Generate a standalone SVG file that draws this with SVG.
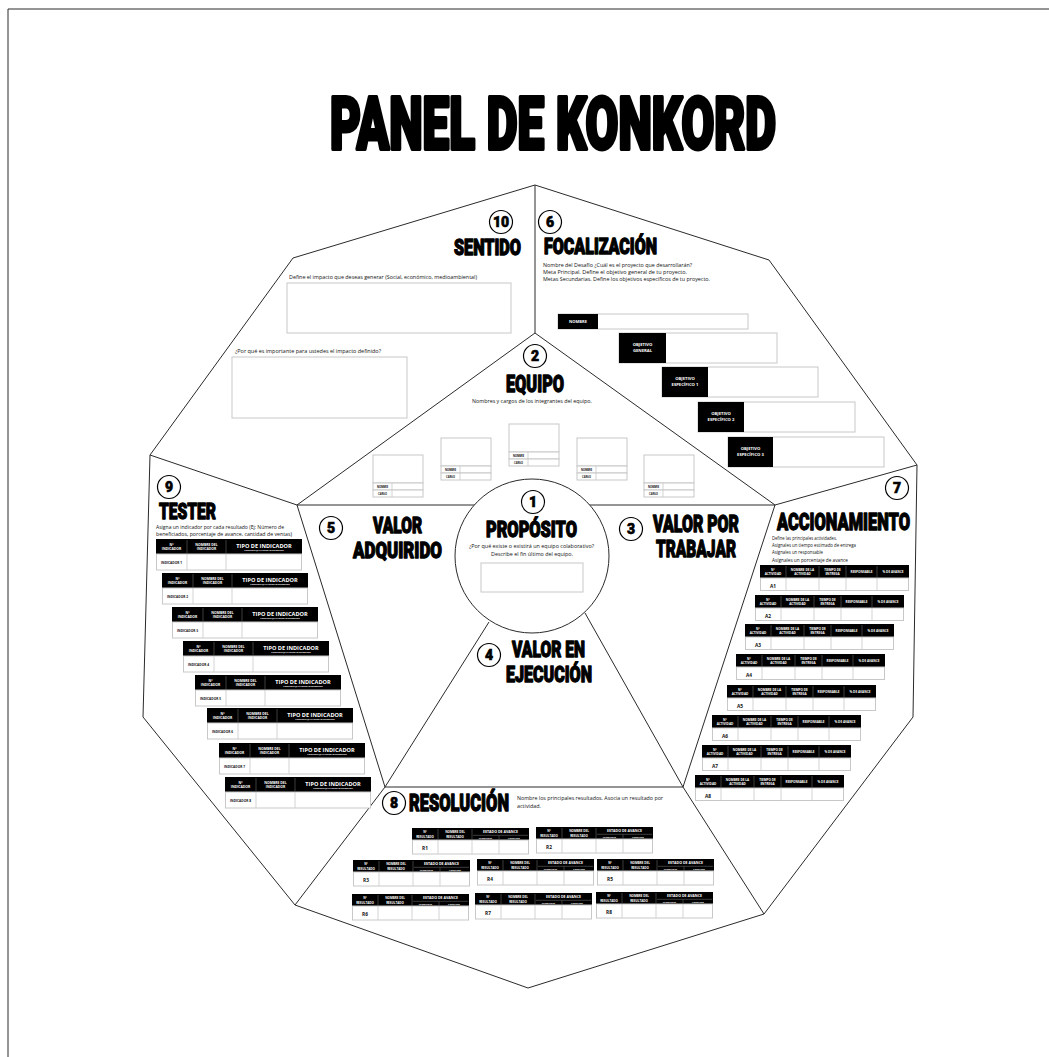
<svg xmlns="http://www.w3.org/2000/svg" width="1049" height="1057" viewBox="0 0 1049 1057">
<style>
.h{font-family:Roboto,Inter,"DejaVu Sans",sans-serif;font-weight:900;fill:#000;stroke:#000;stroke-width:1.3px;stroke-linejoin:round}
.n{font-family:Roboto,Inter,"DejaVu Sans",sans-serif;font-weight:900;font-size:14px;text-anchor:middle;fill:#000;stroke:#000;stroke-width:0.6px}
.nc{fill:#fff;stroke:#000;stroke-width:1.2}
.t{font-family:"Open Sans","Liberation Sans",sans-serif;font-size:6px;fill:#111}
.tc{text-anchor:middle}
.box{fill:#fff;stroke:#c8c8c8;stroke-width:1}
.ln{fill:none;stroke:#2a2a2a;stroke-width:1}
.blk{fill:#000}
.th{font-family:"Open Sans","Liberation Sans",sans-serif;font-weight:700;fill:#fff;text-anchor:middle}
.rl{font-family:"Open Sans","Liberation Sans",sans-serif;font-weight:700;fill:#111;text-anchor:middle}
.sep{stroke:#666;stroke-width:0.6}
.gsep{stroke:#c8c8c8;stroke-width:0.8}
</style>
<defs>
  <g id="tbl-tester">
    <rect class="blk" x="0" y="0" width="146" height="15"/>
    <rect class="box" x="0.5" y="15" width="145" height="16"/>
    <path class="gsep" d="M31,15V31M70,15V31"/>
    <path class="sep" d="M31,1V14M70,1V14"/>
    <text class="th" x="15.5" y="6.5" font-size="3.4">N°</text>
    <text class="th" x="15.5" y="11" font-size="3.4">INDICADOR</text>
    <text class="th" x="50.5" y="6.5" font-size="3.4">NOMBRE DEL</text>
    <text class="th" x="50.5" y="11" font-size="3.4">INDICADOR</text>
    <text class="th" x="108" y="8.5" font-size="5.6">TIPO DE INDICADOR</text>
    <text class="th" x="108" y="12.4" font-size="2.3">PORCENTAJE-CANTIDAD-NÚMEROS</text>
  </g>
  <g id="tbl-act">
    <rect class="blk" x="0" y="0" width="149" height="13"/>
    <rect class="box" x="0.5" y="13" width="148" height="12.5"/>
    <path class="gsep" d="M26,13V25.5M59,13V25.5M86,13V25.5M117,13V25.5"/>
    <path class="sep" d="M26,1V12M59,1V12M86,1V12M117,1V12"/>
    <text class="th" x="13" y="5.5" font-size="3.1">N°</text>
    <text class="th" x="13" y="9.8" font-size="3.1">ACTIVIDAD</text>
    <text class="th" x="42.5" y="5.5" font-size="3.1">NOMBRE DE LA</text>
    <text class="th" x="42.5" y="9.8" font-size="3.1">ACTIVIDAD</text>
    <text class="th" x="72.5" y="5.5" font-size="3.1">TIEMPO DE</text>
    <text class="th" x="72.5" y="9.8" font-size="3.1">ENTREGA</text>
    <text class="th" x="101.5" y="7.8" font-size="3.1">RESPONSABLE</text>
    <text class="th" x="133" y="7.8" font-size="3.1">% DE AVANCE</text>
  </g>
  <g id="tbl-res">
    <rect class="blk" x="0" y="0" width="117" height="12"/>
    <rect class="box" x="0.5" y="12" width="116" height="14"/>
    <path class="gsep" d="M26,12V26M60,12V26M87,12V26"/>
    <path class="sep" d="M26,1V11M60,1V11M87,7.5V11M61,7.3H116"/>
    <text class="th" x="13" y="5" font-size="3">N°</text>
    <text class="th" x="13" y="9.5" font-size="3">RESULTADO</text>
    <text class="th" x="43" y="5" font-size="3">NOMBRE DEL</text>
    <text class="th" x="43" y="9.5" font-size="3">RESULTADO</text>
    <text class="th" x="88.5" y="5.3" font-size="3.6">ESTADO DE AVANCE</text>
    <text class="th" x="73.5" y="10.6" font-size="2.4">PENDIENTE</text>
    <text class="th" x="102" y="10.6" font-size="2.4">LOGRADO</text>
  </g>
  <g id="card">
    <rect class="box" x="0" y="0" width="50" height="28"/>
    <rect class="box" x="0" y="28" width="50" height="7"/>
    <rect class="box" x="0" y="35" width="50" height="7"/>
    <path class="gsep" d="M19,28V42"/>
    <text class="rl" x="9.5" y="32.7" font-size="2.5">NOMBRE</text>
    <text class="rl" x="9.5" y="39.7" font-size="2.5">CARGO</text>
  </g>
</defs>

<rect x="0" y="0" width="1049" height="1057" fill="#fff"/>
<path class="ln" d="M8,9H1049M8,9V1057"/>

<g id="title">
  <text class="h" x="330" y="149" font-size="73" style="stroke-width:4px" textLength="446" lengthAdjust="spacingAndGlyphs">PANEL DE KONKORD</text>
</g>

<g id="connectors">
  <polygon class="ln" points="535,185 769,260 917,465 913,717 764,914 528,988 295,905 143,717 150,455 293,258"/>
  <path class="ln" d="M535,185V333M535,333L297,505M535,333L775,505M150,455L297,505M297,505H775M775,505L917,465M297,505L385,787M775,505L683,787M385,787H683M385,787L295,905M683,787L764,914M489,622L385,787M585,613L683,787"/>
</g>

<g id="sentido">
  <circle class="nc" cx="501" cy="222" r="11.5"/>
  <text class="n" x="501" y="227" font-size="13">10</text>
  <text class="h" x="454" y="254.5" font-size="21.5" textLength="67" lengthAdjust="spacingAndGlyphs">SENTIDO</text>
  <text class="t" x="289" y="279" textLength="188" lengthAdjust="spacingAndGlyphs">Define el impacto que deseas generar (Social, económico, medioambiental)</text>
  <rect class="box" x="287" y="283" width="224" height="50"/>
  <text class="t" x="235" y="353" textLength="146" lengthAdjust="spacingAndGlyphs">¿Por qué es importante para ustedes el impacto definido?</text>
  <rect class="box" x="232" y="357" width="175" height="61"/>
</g>

<g id="focalizacion">
  <circle class="nc" cx="550" cy="222" r="11.5"/>
  <text class="n" x="550" y="227">6</text>
  <text class="h" x="544" y="254" font-size="21.5" textLength="113" lengthAdjust="spacingAndGlyphs">FOCALIZACIÓN</text>
  <text class="t" x="543" y="267" textLength="149" lengthAdjust="spacingAndGlyphs">Nombre del Desafío ¿Cuál es el proyecto que desarrollarán?</text>
  <text class="t" x="543" y="274" textLength="144" lengthAdjust="spacingAndGlyphs">Meta Principal. Define el objetivo general de tu proyecto.</text>
  <text class="t" x="543" y="281" textLength="167" lengthAdjust="spacingAndGlyphs">Metas Secundarias. Define los objetivos específicos de tu proyecto.</text>
  <rect class="box" x="558" y="314" width="190" height="15"/>
  <rect class="blk" x="558" y="314" width="40" height="15"/>
  <text class="th" x="578" y="323" font-size="4">NOMBRE</text>
  <rect class="box" x="619" y="333" width="158" height="30"/>
  <rect class="blk" x="619" y="333" width="47" height="30"/>
  <text class="th" x="642.5" y="345.5" font-size="4.2">OBJETIVO</text>
  <text class="th" x="642.5" y="351.5" font-size="4.2">GENERAL</text>
  <rect class="box" x="662" y="367" width="156" height="30"/>
  <rect class="blk" x="662" y="367" width="46" height="30"/>
  <text class="th" x="685" y="379.5" font-size="4.2">OBJETIVO</text>
  <text class="th" x="685" y="385.5" font-size="4.2">ESPECÍFICO 1</text>
  <rect class="box" x="698" y="402" width="157" height="30"/>
  <rect class="blk" x="698" y="402" width="46" height="30"/>
  <text class="th" x="721" y="414.5" font-size="4.2">OBJETIVO</text>
  <text class="th" x="721" y="420.5" font-size="4.2">ESPECÍFICO 2</text>
  <rect class="box" x="728" y="437" width="156" height="30"/>
  <rect class="blk" x="728" y="437" width="45" height="30"/>
  <text class="th" x="750.5" y="449.5" font-size="4.2">OBJETIVO</text>
  <text class="th" x="750.5" y="455.5" font-size="4.2">ESPECÍFICO 3</text>
</g>

<g id="equipo">
  <circle class="nc" cx="535" cy="356" r="11.5"/>
  <text class="n" x="535" y="361">2</text>
  <text class="h" x="506" y="392" font-size="24.5" textLength="58" lengthAdjust="spacingAndGlyphs">EQUIPO</text>
  <text class="t tc" x="532" y="403" font-size="5.5" textLength="120" lengthAdjust="spacingAndGlyphs">Nombres y cargos de los integrantes del equipo.</text>
  <use href="#card" x="373" y="455"/>
  <use href="#card" x="441" y="438"/>
  <use href="#card" x="509" y="424"/>
  <use href="#card" x="577" y="438"/>
  <use href="#card" x="644" y="455"/>
</g>

<g id="valor-adquirido">
  <circle class="nc" cx="331" cy="528" r="11.5"/>
  <text class="n" x="331" y="533">5</text>
  <text class="h" x="373" y="533" font-size="22.5" textLength="49" lengthAdjust="spacingAndGlyphs">VALOR</text>
  <text class="h" x="353" y="558" font-size="22.5" textLength="89" lengthAdjust="spacingAndGlyphs">ADQUIRIDO</text>
</g>

<g id="valor-por-trabajar">
  <circle class="nc" cx="631" cy="529" r="11.5"/>
  <text class="n" x="631" y="534">3</text>
  <text class="h" x="653" y="532" font-size="23.5" textLength="86" lengthAdjust="spacingAndGlyphs">VALOR POR</text>
  <text class="h" x="656" y="557" font-size="23.5" textLength="80" lengthAdjust="spacingAndGlyphs">TRABAJAR</text>
</g>

<g id="valor-en-ejecucion">
  <circle class="nc" cx="489" cy="655" r="11.5"/>
  <text class="n" x="489" y="660">4</text>
  <text class="h" x="512" y="657" font-size="22.5" textLength="73" lengthAdjust="spacingAndGlyphs">VALOR EN</text>
  <text class="h" x="506" y="682" font-size="22.5" textLength="86" lengthAdjust="spacingAndGlyphs">EJECUCIÓN</text>
</g>

<g id="proposito">
  <circle cx="532" cy="556" r="77" fill="#fff" stroke="#2a2a2a" stroke-width="1"/>
  <circle class="nc" cx="533" cy="502" r="11.5"/>
  <text class="n" x="533" y="507">1</text>
  <text class="h" x="486" y="537" font-size="22.5" textLength="91" lengthAdjust="spacingAndGlyphs">PROPÓSITO</text>
  <text class="t tc" x="531.5" y="548" font-size="5.5" textLength="125" lengthAdjust="spacingAndGlyphs">¿Por qué existe o existirá un equipo colaborativo?</text>
  <text class="t tc" x="532" y="556" font-size="5.5" textLength="82" lengthAdjust="spacingAndGlyphs">Describe el fin último del equipo.</text>
  <rect class="box" x="481" y="563" width="102" height="29"/>
</g>

<g id="tester">
  <circle class="nc" cx="169" cy="487" r="11.5"/>
  <text class="n" x="169" y="492">9</text>
  <text class="h" x="159" y="518.5" font-size="22.5" textLength="57" lengthAdjust="spacingAndGlyphs">TESTER</text>
  <text class="t" x="156" y="528.5" textLength="128" lengthAdjust="spacingAndGlyphs">Asigna un indicador por cada resultado (Ej: Número de</text>
  <text class="t" x="156" y="535.5" textLength="136" lengthAdjust="spacingAndGlyphs">beneficiados, porcentaje de avance, cantidad de ventas)</text>
  <use href="#tbl-tester" x="156" y="539"/>
  <use href="#tbl-tester" x="162" y="573"/>
  <use href="#tbl-tester" x="172" y="607"/>
  <use href="#tbl-tester" x="183" y="641"/>
  <use href="#tbl-tester" x="195" y="675"/>
  <use href="#tbl-tester" x="207" y="708"/>
  <use href="#tbl-tester" x="219" y="743"/>
  <use href="#tbl-tester" x="225" y="777"/>
  <g class="rl" font-size="3.2">
    <text x="171.5" y="564">INDICADOR 1</text>
    <text x="177.5" y="598">INDICADOR 2</text>
    <text x="187.5" y="632">INDICADOR 3</text>
    <text x="198.5" y="666">INDICADOR 4</text>
    <text x="210.5" y="700">INDICADOR 5</text>
    <text x="222.5" y="733">INDICADOR 6</text>
    <text x="234.5" y="768">INDICADOR 7</text>
    <text x="240.5" y="802">INDICADOR 8</text>
  </g>
</g>

<g id="accionamiento">
  <circle class="nc" cx="897" cy="488" r="11.5"/>
  <text class="n" x="897" y="493">7</text>
  <text class="h" x="777" y="530" font-size="23.5" textLength="133" lengthAdjust="spacingAndGlyphs">ACCIONAMIENTO</text>
  <text class="t" x="772" y="540" textLength="65" lengthAdjust="spacingAndGlyphs">Define las principales actividades.</text>
  <text class="t" x="772" y="547" textLength="84" lengthAdjust="spacingAndGlyphs">Asígnales un tiempo estimado de entrega</text>
  <text class="t" x="772" y="554" textLength="51" lengthAdjust="spacingAndGlyphs">Asígnales un responsable</text>
  <text class="t" x="772" y="562" textLength="76" lengthAdjust="spacingAndGlyphs">Asígnales un porcentaje de avance</text>
  <use href="#tbl-act" x="760" y="565"/>
  <use href="#tbl-act" x="755" y="595"/>
  <use href="#tbl-act" x="745" y="624"/>
  <use href="#tbl-act" x="736" y="654"/>
  <use href="#tbl-act" x="727" y="685"/>
  <use href="#tbl-act" x="712" y="715"/>
  <use href="#tbl-act" x="702" y="745"/>
  <use href="#tbl-act" x="695" y="775"/>
  <g class="rl" font-size="4.8" font-weight="600">
    <text x="773" y="588">A1</text>
    <text x="768" y="618">A2</text>
    <text x="758" y="647">A3</text>
    <text x="749" y="677">A4</text>
    <text x="740" y="708">A5</text>
    <text x="725" y="738">A6</text>
    <text x="715" y="768">A7</text>
    <text x="708" y="798">A8</text>
  </g>
</g>

<g id="resolucion">
  <circle class="nc" cx="394" cy="803" r="11.5"/>
  <text class="n" x="394" y="808">8</text>
  <text class="h" x="409" y="811" font-size="24" textLength="100" lengthAdjust="spacingAndGlyphs">RESOLUCIÓN</text>
  <text class="t" x="517" y="800" textLength="146" lengthAdjust="spacingAndGlyphs">Nombre los principales resultados. Asocia un resultado por</text>
  <text class="t" x="517" y="808" textLength="24" lengthAdjust="spacingAndGlyphs">actividad.</text>
  <use href="#tbl-res" x="412" y="828"/>
  <use href="#tbl-res" x="536" y="827"/>
  <use href="#tbl-res" x="353" y="860"/>
  <use href="#tbl-res" x="477" y="859"/>
  <use href="#tbl-res" x="597" y="859"/>
  <use href="#tbl-res" x="352" y="894"/>
  <use href="#tbl-res" x="475" y="893"/>
  <use href="#tbl-res" x="596" y="892"/>
  <g class="rl" font-size="4.8" font-weight="600">
    <text x="425" y="850">R1</text>
    <text x="549" y="849">R2</text>
    <text x="366" y="882">R3</text>
    <text x="490" y="881">R4</text>
    <text x="610" y="881">R5</text>
    <text x="365" y="916">R6</text>
    <text x="488" y="915">R7</text>
    <text x="609" y="914">R8</text>
  </g>
</g>
</svg>
